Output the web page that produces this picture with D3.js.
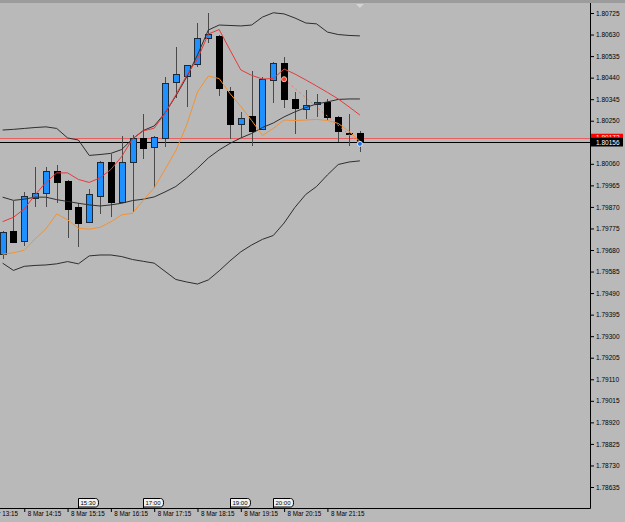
<!DOCTYPE html>
<html>
<head>
<meta charset="utf-8">
<script src="https://cdn.jsdelivr.net/npm/d3@7"></script>
<style>
  body { margin: 0; background: #b9b9b9; }
  svg { display: block; font-family: "Liberation Sans", Arial, sans-serif; }
</style>
</head>
<body>
<div id="chart"></div>
<script>
// M15 candles, 8 Mar
const times = ["13:45","14:00","14:15","14:30","14:45","15:00","15:15","15:30","15:45","16:00",
  "16:15","16:30","16:45","17:00","17:15","17:30","17:45","18:00","18:15","18:30",
  "18:45","19:00","19:15","19:30","19:45","20:00","20:15","20:30","20:45","21:00",
  "21:15","21:30","21:45","22:00"];

const open = [1.79663, 1.79762, 1.79721, 1.79908, 1.79930, 1.80027, 1.79986, 1.79868, 1.79802, 1.79916,
  1.80070, 1.79891, 1.80070, 1.80175, 1.80134, 1.80175, 1.80420, 1.80447, 1.80499, 1.80615,
  1.80625, 1.80381, 1.80236, 1.80271, 1.80212, 1.80430, 1.80506, 1.80346, 1.80302, 1.80322,
  1.80334, 1.80268, 1.80198, 1.80195];
const high = [1.79764, 1.79896, 1.79935, 1.80045, 1.80045, 1.80055, 1.79989, 1.79886, 1.79948, 1.80073,
  1.80104, 1.80183, 1.80187, 1.80280, 1.80183, 1.80442, 1.80574, 1.80496, 1.80680, 1.80726,
  1.80628, 1.80397, 1.80289, 1.80469, 1.80443, 1.80509, 1.80530, 1.80377, 1.80386, 1.80368,
  1.80347, 1.80271, 1.80280, 1.80206];
const low = [1.79641, 1.79716, 1.79698, 1.79868, 1.79871, 1.79886, 1.79732, 1.79692, 1.79800, 1.79839,
  1.79826, 1.79889, 1.79848, 1.80080, 1.79952, 1.80136, 1.80352, 1.80309, 1.80488, 1.80594,
  1.80360, 1.80168, 1.80180, 1.80140, 1.80209, 1.80330, 1.80308, 1.80190, 1.80258, 1.80268,
  1.80253, 1.80155, 1.80139, 1.80114];
const close = [1.79760, 1.79717, 1.79920, 1.79933, 1.80028, 1.79981, 1.79861, 1.79798, 1.79927, 1.80070,
  1.79893, 1.80067, 1.80175, 1.80129, 1.80178, 1.80418, 1.80456, 1.80495, 1.80616, 1.80631,
  1.80393, 1.80236, 1.80261, 1.80206, 1.80434, 1.80506, 1.80346, 1.80308, 1.80318, 1.80331,
  1.80265, 1.80206, 1.80196, 1.80156];

// bollinger bands
const bbUpper = [1.80209, 1.80212, 1.80216, 1.80220, 1.80223, 1.80216, 1.80174, 1.80165, 1.80097, 1.80101,
  1.80106, 1.80123, 1.80170, 1.80207, 1.80227, 1.80284, 1.80359, 1.80443, 1.80540, 1.80650,
  1.80672, 1.80670, 1.80668, 1.80672, 1.80707, 1.80726, 1.80721, 1.80703, 1.80681, 1.80677,
  1.80641, 1.80630, 1.80626, 1.80624];
const bbMiddle = [1.79913, 1.79899, 1.79904, 1.79913, 1.79913, 1.79902, 1.79894, 1.79886, 1.79879, 1.79874,
  1.79879, 1.79886, 1.79898, 1.79904, 1.79914, 1.79936, 1.79960, 1.79998, 1.80040, 1.80086,
  1.80121, 1.80150, 1.80174, 1.80194, 1.80220, 1.80240, 1.80267, 1.80289, 1.80308, 1.80324,
  1.80333, 1.80344, 1.80346, 1.80346];
const bbLower = [1.79622, 1.79590, 1.79608, 1.79612, 1.79614, 1.79619, 1.79629, 1.79619, 1.79654, 1.79658,
  1.79658, 1.79651, 1.79638, 1.79630, 1.79622, 1.79586, 1.79550, 1.79539, 1.79530, 1.79548,
  1.79588, 1.79632, 1.79672, 1.79702, 1.79727, 1.79744, 1.79799, 1.79868, 1.79925, 1.79960,
  1.80011, 1.80057, 1.80068, 1.80073];

// moving averages
const maRed = [1.79805, 1.79824, 1.79861, 1.79923, 1.79978, 1.80020, 1.80020, 1.79991, 1.79978, 1.79998,
  1.80035, 1.80092, 1.80170, 1.80205, 1.80217, 1.80283, 1.80364, 1.80450, 1.80522, 1.80632,
  1.80652, 1.80562, 1.80474, 1.80450, 1.80434, 1.80436, 1.80478, 1.80456, 1.80430, 1.80403,
  1.80375, 1.80346, 1.80311, 1.80275];
const maOrange = [1.79661, 1.79668, 1.79679, 1.79729, 1.79773, 1.79839, 1.79813, 1.79776, 1.79772, 1.79780,
  1.79804, 1.79835, 1.79842, 1.79899, 1.79954, 1.80035, 1.80118, 1.80231, 1.80377, 1.80447,
  1.80436, 1.80370, 1.80313, 1.80251, 1.80185, 1.80216, 1.80253, 1.80251, 1.80253, 1.80256,
  1.80251, 1.80238, 1.80203, 1.80159];

// axis labels
const priceTicks = ["1.80725","1.80630","1.80535","1.80440","1.80345","1.80250","1.80155","1.80060",
  "1.79965","1.79870","1.79775","1.79680","1.79585","1.79490","1.79395","1.79300","1.79205",
  "1.79110","1.79015","1.78920","1.78825","1.78730","1.78635"];
const timeTicks = ["13:15","14:15","15:15","16:15","17:15","18:15","19:15","20:15","21:15"];
const vlineTimes = ["15:30","17:00","19:00","20:00"];

const bidPrice = 1.80156, askPrice = 1.80173;
const tradeTimes = ["20:15","22:00"];
const tradePrices = [1.80433, 1.80148];

const width = 625, height = 522;
const plotRight = 590, plotTop = 3, plotBottom = 508;

const toMin = t => +t.slice(0, 2) * 60 + +t.slice(3);

const x = d3.scaleLinear().domain([toMin("13:45"), toMin("22:00")]).range([2.6, 359.9]);
const y = d3.scaleLinear().domain([1.78635, 1.80725]).range([487, 13]);

const svg = d3.select("#chart").append("svg")
  .attr("width", width)
  .attr("height", height);

svg.append("rect").attr("width", width).attr("height", height).attr("fill", "#b9b9b9");
// top border strip
svg.append("rect").attr("width", width).attr("height", plotTop).attr("fill", "#9c9c9c");

svg.append("clipPath").attr("id", "plot-clip")
  .append("rect").attr("x", 0).attr("y", plotTop).attr("width", plotRight).attr("height", plotBottom - plotTop);

const plot = svg.append("g").attr("clip-path", "url(#plot-clip)");

// bid / ask lines
plot.append("line")
  .attr("x1", 0).attr("x2", plotRight)
  .attr("y1", Math.round(y(askPrice)) + 0.5).attr("y2", Math.round(y(askPrice)) + 0.5)
  .attr("stroke", "#e86060");
plot.append("line")
  .attr("x1", 0).attr("x2", plotRight)
  .attr("y1", Math.round(y(bidPrice)) + 0.5).attr("y2", Math.round(y(bidPrice)) + 0.5)
  .attr("stroke", "#000");

const candles = times.map((t, i) => ({t: toMin(t), o: open[i], h: high[i], l: low[i], c: close[i]}));

// wicks
plot.selectAll(".wick")
  .data(candles)
  .join("line")
  .attr("class", "wick")
  .attr("x1", d => Math.round(x(d.t)) + 0.5)
  .attr("x2", d => Math.round(x(d.t)) + 0.5)
  .attr("y1", d => Math.round(y(d.h)))
  .attr("y2", d => Math.round(y(d.l)))
  .attr("stroke", "#4a4a4a");

// bodies
plot.selectAll(".body")
  .data(candles)
  .join("rect")
  .attr("class", "body")
  .attr("x", d => Math.round(x(d.t)) - 3 + 0.5)
  .attr("width", 6)
  .attr("y", d => Math.round(y(Math.max(d.o, d.c))) + 0.5)
  .attr("height", d => Math.max(1, Math.round(y(Math.min(d.o, d.c))) - Math.round(y(Math.max(d.o, d.c)))))
  .attr("fill", d => d.c > d.o ? "#1e90ff" : "#000")
  .attr("stroke", d => d.c > d.o ? "#1c2a38" : "#000");

// indicator lines
const line = d3.line()
  .x((d, i) => x(toMin(times[i])))
  .y(d => y(d));

[bbUpper, bbMiddle, bbLower].forEach(s => {
  plot.append("path")
    .attr("d", line(s))
    .attr("fill", "none")
    .attr("stroke", "#2e2e2e")
    .attr("stroke-width", 1);
});

plot.append("path")
  .attr("d", line(maOrange))
  .attr("fill", "none")
  .attr("stroke", "#f39233")
  .attr("stroke-width", 1);

plot.append("path")
  .attr("d", line(maRed))
  .attr("fill", "none")
  .attr("stroke", "#e8393a")
  .attr("stroke-width", 1);

// trade line with arrows
plot.append("line")
  .attr("x1", x(toMin(tradeTimes[0]))).attr("y1", y(tradePrices[0]))
  .attr("x2", x(toMin(tradeTimes[1]))).attr("y2", y(tradePrices[1]))
  .attr("stroke", "#ec7b68")
  .attr("stroke-dasharray", "2,3");
plot.append("circle")
  .attr("cx", x(toMin(tradeTimes[0]))).attr("cy", y(tradePrices[0]))
  .attr("r", 2.5).attr("fill", "#f04020").attr("stroke", "#f4c0b0");
plot.append("circle")
  .attr("cx", x(toMin(tradeTimes[1]))).attr("cy", y(tradePrices[1]))
  .attr("r", 2.5).attr("fill", "#1e6fe0").attr("stroke", "#e0e8f4");

// chart shift marker
const shiftX = x(toMin(times[times.length - 1]));
svg.append("path")
  .attr("d", `M${shiftX - 4},${plotTop + 1}H${shiftX + 4}L${shiftX},${plotTop + 5}Z`)
  .attr("fill", "#d4d4d4");

// frame
svg.append("line")
  .attr("x1", plotRight + 0.5).attr("x2", plotRight + 0.5)
  .attr("y1", plotTop).attr("y2", plotBottom + 0.5)
  .attr("stroke", "#000");
svg.append("line")
  .attr("x1", 0).attr("x2", plotRight + 0.5)
  .attr("y1", plotBottom + 0.5).attr("y2", plotBottom + 0.5)
  .attr("stroke", "#000");

// price axis
svg.append("g")
  .attr("transform", `translate(${plotRight},0)`)
  .call(d3.axisRight(y).tickValues(priceTicks.map(Number)).tickFormat(d3.format(".5f")).tickSize(4).tickPadding(2))
  .attr("font-family", null)
  .attr("font-size", 6.5)
  .call(g => g.select(".domain").remove());

// time axis
svg.append("g")
  .attr("transform", `translate(0,${plotBottom})`)
  .call(d3.axisBottom(x).tickValues(timeTicks.map(toMin)).tickFormat((m, i) => "8 Mar " + timeTicks[i]).tickSize(4).tickPadding(0))
  .attr("font-family", null)
  .attr("font-size", 6.3)
  .call(g => g.select(".domain").remove())
  .call(g => g.selectAll("text").attr("text-anchor", "start").attr("x", 3));

// vertical line labels
const vl = svg.selectAll(".vlabel")
  .data(vlineTimes)
  .join("g")
  .attr("class", "vlabel")
  .attr("transform", d => `translate(${Math.round(x(toMin(d))) + 0.5},0)`);
vl.append("path")
  .attr("d", `M0,${plotBottom}V498.5H17Q20,498.5 20,502.75Q20,507 17,507H0`)
  .attr("fill", "#f2f2f2")
  .attr("stroke", "#000");
vl.append("text")
  .attr("x", 2)
  .attr("y", 505.3)
  .attr("font-size", 6)
  .text(d => d);

// current price labels (ask label mostly hidden behind bid label)
const askY = Math.round(y(askPrice));
const bidY = Math.round(y(bidPrice));
svg.append("clipPath").attr("id", "ask-clip")
  .append("rect").attr("x", 591).attr("y", askY - 4.5).attr("width", 32).attr("height", bidY - askY);
const askG = svg.append("g").attr("clip-path", "url(#ask-clip)");
askG.append("rect").attr("x", 591).attr("y", askY - 4.5).attr("width", 32).attr("height", 9).attr("fill", "#ff0000");
askG.append("text").attr("x", 596).attr("y", askY + 2.3).attr("font-size", 6.5).attr("fill", "#fff").text(askPrice.toFixed(5));
svg.append("rect").attr("x", 591).attr("y", bidY - 4.5).attr("width", 32).attr("height", 9).attr("fill", "#000");
svg.append("text").attr("x", 596).attr("y", bidY + 2.5).attr("font-size", 6.5).attr("fill", "#fff").text(bidPrice.toFixed(5));
</script>
</body>
</html>
